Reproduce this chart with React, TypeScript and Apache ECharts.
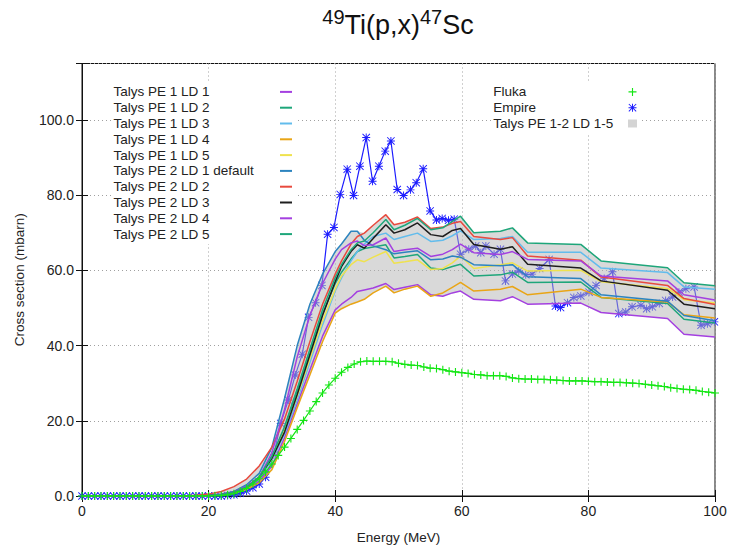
import React, { useEffect, useRef } from "react";
import * as echarts from "echarts";

const FONT = "'Liberation Sans', Arial, Helvetica, sans-serif";

// Talys energy grid (MeV)
const talysE = [0, 16, 18, 20, 22, 24, 26, 28, 30, 32, 34, 36, 38, 40, 41, 42.5, 43.5, 44.6, 46, 48, 49.3, 51, 53, 55.1, 57, 58.5, 59.8, 61.9, 66.1, 68, 70.4, 78.8, 82, 92.5, 95.1, 100];

const pe1ld1 = [0, 0, 0.03, 0.1, 0.3, 0.8, 1.9, 4, 8, 15.5, 24.5, 33.5, 42.5, 49.5, 51, 52.8, 54.4, 54.8, 55.3, 56.5, 54.9, 55.5, 56.2, 53.5, 53.1, 54, 54.5, 52.3, 51.9, 53, 51, 51.3, 48.8, 47.2, 43, 42.3];
const pe1ld2 = [0, 0, 0.05, 0.15, 0.4, 1, 2.4, 5, 10.5, 18, 28, 38, 48.5, 56.5, 59.5, 63, 65, 65.8, 66.2, 66.8, 63.3, 63.7, 64.2, 60.6, 60.2, 61, 61.6, 58.5, 58.8, 59.5, 56.8, 56.9, 52.8, 51.2, 47, 46];
const pe1ld3 = [0, 0, 0.05, 0.1, 0.35, 0.9, 2.1, 4.5, 9.5, 16.5, 25.5, 35.5, 45.5, 54.5, 58, 62.5, 65, 67, 69, 69.9, 68.2, 69, 69.9, 67.7, 68, 69.2, 70.5, 68.2, 68.5, 69, 64.8, 64.8, 60.6, 59.4, 55.6, 55];
const pe1ld4 = [0, 0, 0.03, 0.1, 0.3, 0.8, 1.8, 3.5, 7, 14.5, 23.5, 32.2, 41, 48.6, 49.8, 51, 51.6, 52.3, 54, 55.8, 54, 55, 55.8, 53.1, 54, 55.5, 56.8, 54.5, 55, 55.7, 53.5, 55, 52.8, 51.6, 48.2, 47.3];
const pe1ld5 = [0, 0, 0.05, 0.15, 0.4, 1, 2.3, 5, 10, 17.5, 26.5, 36.5, 46.5, 55, 58.5, 61.5, 62.8, 62.3, 63.5, 65, 61.9, 62.3, 62.8, 60.2, 60.5, 62, 63.8, 60.5, 61.5, 62, 59.8, 60, 57, 55.2, 52.2, 51.3];
const pe2ld1 = [0, 0, 0.05, 0.15, 0.45, 1.2, 3, 6, 13, 26, 40, 51, 59, 65, 67, 70.4, 70.4, 68, 66.5, 65.5, 64.4, 64.8, 65.2, 62.8, 63, 63.8, 63.5, 61.5, 61.2, 61.5, 58.3, 57.8, 53.5, 51.8, 48, 46.6];
const pe2ld2 = [0, 0.02, 0.2, 0.5, 1.2, 2.5, 4.5, 8, 13, 20.5, 30.5, 41, 51, 59, 62.5, 67, 69, 69.9, 72, 74.8, 72.1, 72.8, 74.2, 71.1, 71.5, 72.5, 73, 69, 68.2, 68.7, 63.8, 62.7, 58.2, 56, 52.5, 50.9];
const pe2ld3 = [0, 0, 0.05, 0.15, 0.4, 1, 2.4, 5, 10, 17, 27, 37.5, 48, 57, 61, 65, 66.8, 65.9, 68.5, 72.1, 69.9, 70.8, 72.6, 69.5, 69, 70.6, 71.1, 66.9, 65.6, 66.3, 61.6, 60.6, 57.2, 54.7, 51, 49.8];
const pe2ld4 = [0, 0, 0.05, 0.15, 0.4, 1.1, 2.6, 5, 11.5, 23, 37, 48, 56.5, 63, 65.5, 67.3, 67.8, 66.6, 66.8, 68.6, 65, 65.5, 65.9, 63.7, 64.3, 65.5, 67, 64.7, 64.2, 65, 62.9, 62.5, 58.5, 57.2, 53.5, 52.1];
const pe2ld5 = [0, 0, 0.05, 0.15, 0.4, 1, 2.4, 5, 10.5, 18.5, 28.5, 39, 49.5, 58, 61.5, 65.5, 67.3, 67.8, 70, 73.5, 70.8, 72, 73.8, 70.8, 71.3, 73, 74.4, 70, 70.4, 71.3, 67.3, 66.9, 62.5, 60.7, 56.7, 55.9];

const talysNames = [
  "Talys PE 1 LD 1", "Talys PE 1 LD 2", "Talys PE 1 LD 3", "Talys PE 1 LD 4", "Talys PE 1 LD 5",
  "Talys PE 2 LD 1 default", "Talys PE 2 LD 2", "Talys PE 2 LD 3", "Talys PE 2 LD 4", "Talys PE 2 LD 5",
];
const talysColors = ["#a440e0", "#1ea67a", "#62bcec", "#e9a516", "#efe24e", "#2c84bf", "#e84a3e", "#1e1e1e", "#a440e0", "#1ea67a"];
const talysValues = [pe1ld1, pe1ld2, pe1ld3, pe1ld4, pe1ld5, pe2ld1, pe2ld2, pe2ld3, pe2ld4, pe2ld5];

// Fluka
const flukaE = [0, 1, 2, 3, 4, 5, 6, 7, 8, 9, 10, 11, 12, 13, 14, 15, 16, 17, 18, 19, 20, 21, 22, 23, 24, 25, 26, 27, 28, 29, 30, 31, 32, 33, 34, 35, 36, 37, 38, 39, 40, 41, 42, 43, 44, 45, 46, 47, 48, 49, 50, 51, 52, 53, 54, 55, 56, 57, 58, 59, 60, 61, 62, 63, 64, 65, 66, 67, 68, 69, 70, 71, 72, 73, 74, 75, 76, 77, 78, 79, 80, 81, 82, 83, 84, 85, 86, 87, 88, 89, 90, 91, 92, 93, 94, 95, 96, 97, 98, 99, 100];
const flukaXS = [0, 0, 0, 0, 0, 0, 0, 0, 0, 0, 0, 0, 0, 0, 0, 0, 0, 0, 0, 0, 0, 0.05, 0.1, 0.3, 0.6, 1.2, 2, 3.2, 4.6, 6.4, 8.5, 10.8, 13, 15.3, 17.7, 20.1, 22.6, 25.1, 27.4, 29.5, 31.3, 32.9, 34.2, 35.1, 35.7, 35.9, 35.8, 35.8, 35.8, 35.7, 35.3, 35, 34.8, 34.7, 34.3, 34, 33.9, 33.6, 33.2, 33, 32.8, 32.6, 32.3, 32.2, 32, 32, 32, 31.8, 31.4, 31.2, 31.1, 31.1, 31, 31, 30.9, 30.8, 30.7, 30.6, 30.6, 30.6, 30.5, 30.4, 30.4, 30.3, 30.2, 30.2, 30.1, 30, 29.9, 29.7, 29.5, 29.3, 29.1, 28.8, 28.6, 28.4, 28.3, 28.1, 27.8, 27.6, 27.4];

// Empire
const empireE = [0, 1, 2, 3, 4, 5, 6, 7, 8, 9, 10, 11, 12, 13, 14, 15, 16, 17, 18, 19, 20, 21, 22, 23, 24, 25, 26, 27, 28, 29, 30.3, 31.4, 32.6, 33.7, 34.8, 35.8, 36.9, 37.9, 38.8, 39.8, 40.8, 41.9, 42.9, 43.9, 44.9, 45.9, 46.9, 47.9, 48.8, 49.8, 50.8, 51.9, 52.8, 53.9, 55, 56, 56.9, 57.9, 58.8, 59.8, 61.1, 62.2, 63, 63.8, 65.1, 66.1, 66.9, 68, 69, 70.1, 71.1, 72.3, 73.8, 74.8, 75.6, 76.7, 77.7, 78.8, 80.1, 81.2, 82.5, 83.8, 84.8, 85.9, 86.9, 88.3, 89.2, 90.1, 91.2, 92.2, 93.3, 94.3, 95.4, 96.7, 97.8, 98.8, 99.9];
const empireXS = [0, 0, 0, 0, 0, 0, 0, 0, 0, 0, 0, 0, 0, 0, 0, 0, 0, 0, 0, 0, 0, 0, 0, 0.1, 0.3, 0.7, 1.3, 2.2, 3.2, 5, 11, 19.3, 25.5, 32.2, 37.7, 47.5, 51.4, 56, 69.6, 71.4, 80.2, 86.9, 79.9, 87.7, 95.3, 83.7, 87.7, 91.7, 94.4, 81.5, 79.9, 81.4, 83.3, 87, 75.8, 73.4, 73.8, 73.3, 73.6, 64.3, 65.6, 66.5, 64.7, 66.5, 64.3, 65.6, 57.2, 59, 59.8, 58.8, 59, 60.5, 62.9, 50.5, 50.1, 51.4, 52.8, 53.2, 54.2, 56, 57.8, 59.6, 48.5, 48.9, 50.3, 50.7, 49.8, 50.3, 51.2, 52, 52.9, 54.2, 55.1, 55.6, 45.4, 45.8, 46.3];

const PLUS = "path://M4.3,0H5.7V10H4.3Z M0,4.3H10V5.7H0Z";
const STAR = "path://M4.4,0H5.6V10H4.4Z M0,4.4H10V5.6H0Z M0,0.8L0.8,0L10,9.2L9.2,10Z M10,0.8L0.8,10L0,9.2L9.2,0Z";

export default function App() {
  const ref = useRef<HTMLDivElement>(null);
  useEffect(() => {
    const chart = echarts.init(ref.current as HTMLDivElement, null, { renderer: "svg" });
    const bandHi = talysE.map((_, i) => Math.max(...talysValues.map((a) => a[i])));
    const bandLo = talysE.map((_, i) => Math.min(...talysValues.map((a) => a[i])));

    const axisLine = { show: true, lineStyle: { color: "#111", width: 1 } };
    const tick = { show: true, inside: true, length: 6, lineStyle: { color: "#111", width: 1 } };
    const split = { show: true, lineStyle: { color: "#a0a0a0", type: [1, 3] as any, width: 1 } };

    const talysSeries = talysNames.map((n, k) => ({
      name: n,
      type: "line",
      color: talysColors[k],
      data: talysE.map((e, i) => [e, talysValues[k][i]]),
      showSymbol: false,
      symbol: "none",
      lineStyle: { width: 1.5, color: talysColors[k] },
      z: 4,
      silent: true,
    }));

    const option: any = {
      animation: false,
      backgroundColor: "#fff",
      textStyle: { fontFamily: FONT },
      title: {
        text: "{s|49}{b|Ti(p,x)}{s|47}{b|Sc}",
        left: 398,
        top: 7,
        padding: 0,
        textAlign: "center",
        textStyle: {
          fontWeight: "normal",
          rich: {
            b: { fontSize: 27, lineHeight: 35, fontFamily: FONT, color: "#111", fontWeight: "normal" },
            s: { fontSize: 20, lineHeight: 23, verticalAlign: "top", fontFamily: FONT, color: "#111", fontWeight: "normal" },
          },
        },
      },
      grid: { left: 82, right: 15, top: 63.5, bottom: 50, show: true, borderColor: "#111", borderWidth: 1, backgroundColor: "transparent" },
      xAxis: [
        {
          type: "value", min: 0, max: 100, interval: 20, position: "bottom",
          axisLine, axisTick: tick, splitLine: split,
          axisLabel: { fontSize: 14, color: "#222", margin: 8, fontFamily: FONT },
          name: "Energy (MeV)", nameLocation: "middle", nameGap: 34,
          nameTextStyle: { fontSize: 13.5, color: "#222", fontFamily: FONT },
        },
        {
          type: "value", min: 0, max: 100, interval: 20, position: "top",
          axisLine, axisTick: tick, splitLine: { show: false }, axisLabel: { show: false },
        },
      ],
      yAxis: [
        {
          type: "value", min: 0, max: 115, interval: 20, position: "left",
          axisLine, axisTick: tick, splitLine: split,
          axisLabel: {
            fontSize: 14, color: "#222", margin: 8, fontFamily: FONT,
            formatter: (v: number) => (v % 20 === 0 ? v.toFixed(1) : ""),
          },
          name: "Cross section (mbarn)", nameLocation: "middle", nameGap: 56, nameRotate: 90,
          nameTextStyle: { fontSize: 13.5, color: "#222", fontFamily: FONT },
        },
        {
          type: "value", min: 0, max: 115, interval: 20, position: "right",
          axisLine, axisTick: tick, splitLine: { show: false }, axisLabel: { show: false },
        },
      ],
      legend: [
        {
          data: talysNames.map((n) => ({ name: n, icon: "rect" })),
          orient: "vertical",
          left: 112,
          top: 83,
          padding: [1, 6, 2, 1.5],
          align: "right",
          itemWidth: 12,
          itemHeight: 2,
          itemGap: 0,
          backgroundColor: "#fff",
          selectedMode: false,
          formatter: "{a|{name}}",
          textStyle: {
            fontSize: 13.5, color: "#222", fontFamily: FONT, lineHeight: 15.8,
            rich: { a: { width: 161.5, align: "left", fontSize: 13.5, lineHeight: 15.8, fontFamily: FONT, color: "#222" } },
          },
        },
        {
          data: [
            { name: "Fluka", icon: PLUS },
            { name: "Empire", icon: STAR },
            { name: "Talys PE 1-2 LD 1-5", icon: "rect" },
          ],
          orient: "vertical",
          left: 491.5,
          top: 83,
          padding: [1, 4, 2, 1.8],
          align: "right",
          itemWidth: 9,
          itemHeight: 8,
          itemGap: 0,
          backgroundColor: "#fff",
          selectedMode: false,
          formatter: "{a|{name}}",
          textStyle: {
            fontSize: 13.5, color: "#222", fontFamily: FONT, lineHeight: 15.8,
            rich: { a: { width: 129.7, align: "left", fontSize: 13.5, lineHeight: 15.8, fontFamily: FONT, color: "#222" } },
          },
        },
      ],
      series: [
        {
          name: "Empire",
          type: "line",
          color: "#1c1cff",
          data: empireE.map((e, i) => [e, empireXS[i]]),
          symbol: STAR,
          symbolSize: 8,
          showSymbol: true,
          lineStyle: { width: 1.2, color: "#1c1cff" },
          itemStyle: { color: "#1c1cff" },
          z: 2,
          silent: true,
        },
        {
          name: "Talys PE 1-2 LD 1-5",
          type: "custom",
          color: "#d4d4d4",
          itemStyle: { color: "#d4d4d4" },
          data: [[0, 0]],
          encode: { x: 0, y: 1 },
          z: 3,
          silent: true,
          renderItem: (_params: any, api: any) => {
            const pts: number[][] = [];
            for (let i = 0; i < talysE.length; i++) pts.push(api.coord([talysE[i], bandHi[i]]));
            for (let i = talysE.length - 1; i >= 0; i--) pts.push(api.coord([talysE[i], bandLo[i]]));
            return { type: "polygon", shape: { points: pts }, style: { fill: "rgba(180,180,180,0.5)", stroke: "none" } };
          },
        },
        ...talysSeries,
        {
          name: "Fluka",
          type: "line",
          color: "#14e614",
          data: flukaE.map((e, i) => [e, flukaXS[i]]),
          symbol: PLUS,
          symbolSize: 8,
          showSymbol: true,
          lineStyle: { width: 1.2, color: "#14e614" },
          itemStyle: { color: "#14e614" },
          z: 5,
          silent: true,
        },
      ],
    };
    chart.setOption(option);
    return () => chart.dispose();
  }, []);
  return (
    <div
      ref={ref}
      style={{ position: "fixed", left: 0, top: 0, width: 730, height: 549, background: "#fff" }}
    />
  );
}
